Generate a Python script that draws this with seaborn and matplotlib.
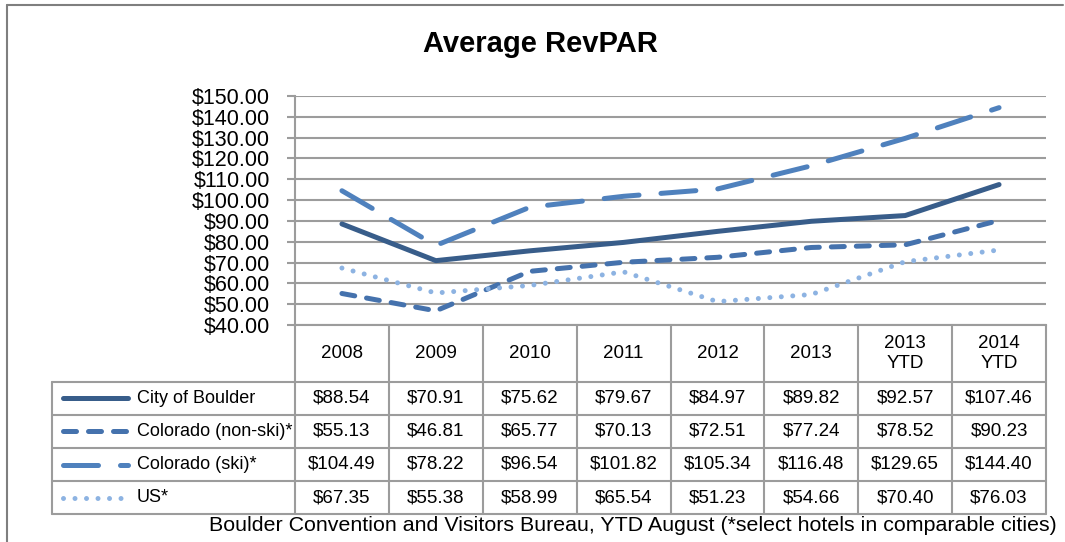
import matplotlib

matplotlib.use("Agg")
import matplotlib.pyplot as plt
import numpy as np
import pandas as pd
import seaborn as sns
from matplotlib.transforms import blended_transform_factory

periods = ["2008", "2009", "2010", "2011", "2012", "2013", "2013\nYTD", "2014\nYTD"]
city_of_boulder = [88.54, 70.91, 75.62, 79.67, 84.97, 89.82, 92.57, 107.46]
colorado_non_ski = [55.13, 46.81, 65.77, 70.13, 72.51, 77.24, 78.52, 90.23]
colorado_ski = [104.49, 78.22, 96.54, 101.82, 105.34, 116.48, 129.65, 144.40]
us = [67.35, 55.38, 58.99, 65.54, 51.23, 54.66, 70.40, 76.03]
series_names = ["City of Boulder", "Colorado (non-ski)*", "Colorado (ski)*", "US*"]
y_ticks = list(range(40, 151, 10))

colors = {
    "City of Boulder": "#385D8A",
    "Colorado (non-ski)*": "#4572AD",
    "Colorado (ski)*": "#4F81BD",
    "US*": "#8DB3E2",
}
dash_map = {
    "City of Boulder": "",
    "Colorado (non-ski)*": (2.6, 2.4),
    "Colorado (ski)*": (7.0, 4.4),
    "US*": (0.001, 2.3),
}

W, H = 1065, 542
GRAY = "#9C9C9C"
LW = 3.6

sns.set_style("white")
plt.rcParams["font.family"] = ["Liberation Sans", "DejaVu Sans"]
plt.rcParams["text.color"] = "black"
plt.rcParams["ytick.labelcolor"] = "black"
plt.rcParams["lines.solid_capstyle"] = "round"
plt.rcParams["lines.dash_capstyle"] = "round"
plt.rcParams["lines.solid_joinstyle"] = "round"

frame = pd.DataFrame(
    {
        "pos": np.tile(np.arange(len(periods)), len(series_names)),
        "value": city_of_boulder + colorado_non_ski + colorado_ski + us,
        "series": np.repeat(series_names, len(periods)),
    }
)

fig = plt.figure(figsize=(W / 100, H / 100), dpi=100)
overlay = fig.add_axes([0, 0, 1, 1])
overlay.set_xlim(0, W)
overlay.set_ylim(H, 0)
overlay.axis("off")

ax = fig.add_axes([295 / W, 1 - 325 / H, (1046 - 295) / W, (325 - 96) / H])
ax.set_facecolor("none")

sns.lineplot(
    data=frame,
    x="pos",
    y="value",
    hue="series",
    style="series",
    hue_order=series_names,
    style_order=series_names,
    palette=colors,
    dashes=dash_map,
    linewidth=LW,
    estimator=None,
    legend=False,
    ax=ax,
    zorder=3,
)

ax.set_xlim(-0.5, len(periods) - 0.5)
ax.set_ylim(40, 150)
ax.set_xticks([])
ax.set_yticks(y_ticks)
ax.set_yticklabels(["${0:.2f}".format(t) for t in y_ticks], fontsize=15.5, color="black")
ax.set_xlabel("")
ax.set_ylabel("")
ax.yaxis.grid(True, color=GRAY, linewidth=1.5)
ax.tick_params(axis="y", direction="out", length=5.8, width=1.5, color=GRAY, pad=12, left=True)
for side in ("top", "right"):
    ax.spines[side].set_visible(False)
for side in ("left", "bottom"):
    ax.spines[side].set_color(GRAY)
    ax.spines[side].set_linewidth(1.5)

overlay.text(540, 52, "Average RevPAR", ha="center", va="baseline", fontsize=21, fontweight="bold")

# data table under the plot
tx = blended_transform_factory(ax.transData, overlay.transData)
header_top, header_bottom = 325, 382
row_edges = [382, 414.5, 448, 481, 514]
for edge in np.arange(-0.5, len(periods), 1.0):
    ax.plot([edge, edge], [header_top, row_edges[-1]], transform=tx, color=GRAY, lw=1.5, clip_on=False)
overlay.plot([52, 52], [row_edges[0], row_edges[-1]], color=GRAY, lw=1.5)
for y in row_edges:
    overlay.plot([52, 1046], [y, y], color=GRAY, lw=1.5)

for i, label in enumerate(periods):
    ax.text(i, (header_top + header_bottom) / 2, label, transform=tx, ha="center", va="center",
            fontsize=13.5, linespacing=1.2, clip_on=False)

table_rows = [city_of_boulder, colorado_non_ski, colorado_ski, us]
for r, (name, values) in enumerate(zip(series_names, table_rows)):
    yc = (row_edges[r] + row_edges[r + 1]) / 2
    sample_style = dict(color=colors[name], lw=LW)
    if dash_map[name]:
        sample_style["dashes"] = dash_map[name]
    overlay.plot([62.5, 127.5], [yc, yc], **sample_style)
    overlay.text(137, yc, name, ha="left", va="center", fontsize=13)
    for i, v in enumerate(values):
        ax.text(i, yc, "${0:.2f}".format(v), transform=tx, ha="center", va="center",
                fontsize=13.5, clip_on=False)

overlay.text(1057, 531, "Boulder Convention and Visitors Bureau, YTD August (*select hotels in comparable cities)",
             ha="right", va="baseline", fontsize=15.4)

# outer chart frame (left and top edges visible)
overlay.plot([7, 7], [5, H], color="#7F7F7F", lw=1.5)
overlay.plot([7, 1063], [5, 5], color="#7F7F7F", lw=1.5)

fig.savefig("out.png", dpi=100)
